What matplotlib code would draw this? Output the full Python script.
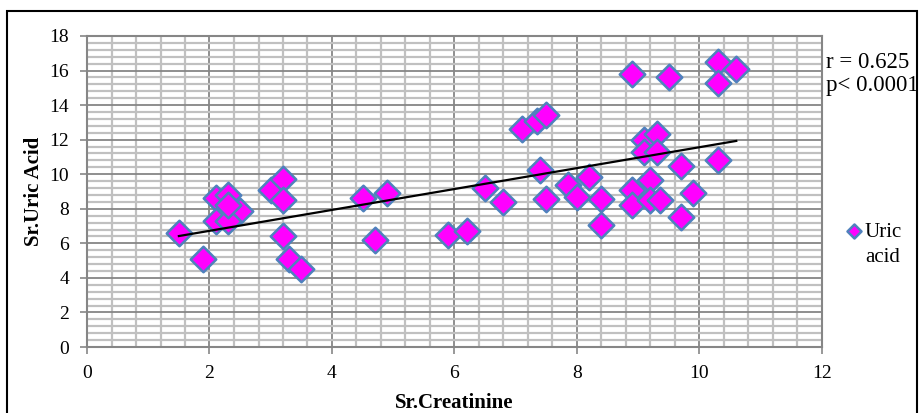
import numpy as np
import matplotlib
matplotlib.use("Agg")
from matplotlib import pyplot as plt
from matplotlib.ticker import MultipleLocator
from matplotlib.patches import Rectangle

plt.rcParams['font.family'] = ['Liberation Serif', 'DejaVu Serif']

# Sr.Creatinine vs Sr.Uric Acid
creatinine = [1.5, 1.9, 2.1, 2.3, 2.5, 2.1, 2.3, 2.3, 3.0, 3.2, 3.2, 3.2, 3.3, 3.5,
              4.5, 4.9, 4.7, 5.9, 6.2, 6.5, 6.8, 7.1, 7.35, 7.5, 7.4, 7.5,
              7.85, 8.0, 8.2, 8.4, 8.4, 8.9, 8.9, 9.1, 9.1, 9.3, 9.3, 9.2, 9.2, 9.35,
              9.7, 9.9, 9.7, 10.3, 8.9, 9.5, 10.3, 10.3, 10.6]
uric_acid = [6.6, 5.1, 8.6, 8.8, 7.9, 7.3, 7.3, 8.2, 9.1, 9.7, 8.5, 6.4, 5.1, 4.5,
             8.6, 8.9, 6.2, 6.5, 6.7, 9.2, 8.4, 12.6, 13.1, 13.4, 10.25, 8.55,
             9.4, 8.7, 9.85, 8.55, 7.05, 9.1, 8.2, 12.0, 11.3, 12.35, 11.3, 9.65, 8.5, 8.5,
             10.45, 8.9, 7.5, 10.8, 15.8, 15.6, 16.5, 15.3, 16.1]

x_ticks = np.arange(0, 13, 2)
y_ticks = np.arange(0, 19, 2)

fig = plt.figure(figsize=(9.24, 4.13), dpi=100)
ax = fig.add_axes([87 / 924, 1 - 347 / 413, 735 / 924, 311 / 413])

# сетка как в Excel: частые светлые линии и основные потемнее
ax.set_xlim(0, 12)
ax.set_ylim(0, 18)
ax.set_xticks(x_ticks)
ax.set_yticks(y_ticks)
ax.xaxis.set_minor_locator(MultipleLocator(0.4))
ax.yaxis.set_minor_locator(MultipleLocator(0.4))
ax.grid(True, which='minor', color='#c0c0c0', linewidth=1.6)
ax.grid(True, which='major', color='#868686', linewidth=1.3)
ax.set_axisbelow(True)
ax.tick_params(which='minor', length=0)
ax.tick_params(which='major', direction='out', length=5, width=1.2, color='#868686',
               labelsize=14, pad=8)
for s in ax.spines.values():
    s.set_color('#868686')
    s.set_linewidth(1.5)

ax.scatter(creatinine, uric_acid, marker='D', s=13 ** 2, color='#ff00ff',
           edgecolor='#4f81bd', linewidth=1.8, zorder=3, label='Uric')

# линейный тренд
k, b = np.polyfit(creatinine, uric_acid, 1)
xt = np.array([min(creatinine), max(creatinine)])
ax.plot(xt, k * xt + b, color='black', linewidth=1.6, zorder=4)

ax.set_xlabel('Sr.Creatinine', fontsize=15, fontweight='bold', labelpad=8)
ax.set_ylabel('Sr.Uric Acid', fontsize=15, fontweight='bold', labelpad=4)

fig.text(826 / 924, 1 - 62 / 413, 'r = 0.625', fontsize=16.5, va='center', ha='left')
fig.text(826 / 924, 1 - 86 / 413, 'p< 0.0001', fontsize=16.5, va='center', ha='left')

# легенда: маркер на уровне первой строки, вторая строка отдельно
ax.legend(loc='center left', bbox_to_anchor=(833 / 924, 1 - 232 / 413),
          bbox_transform=fig.transFigure, frameon=False, fontsize=15,
          markerscale=0.55, handletextpad=0.0, handlelength=1.0, borderpad=0)
fig.text(865 / 924, 1 - 257 / 413, 'acid', fontsize=15, va='center', ha='left')

# рамка вокруг диаграммы (низ обрезан краем картинки)
fig.patches.append(Rectangle((7 / 924, -10 / 413), 910 / 924, 412 / 413,
                             transform=fig.transFigure, fill=False,
                             edgecolor='black', linewidth=1.5))

fig.savefig('out.png', dpi=100)
